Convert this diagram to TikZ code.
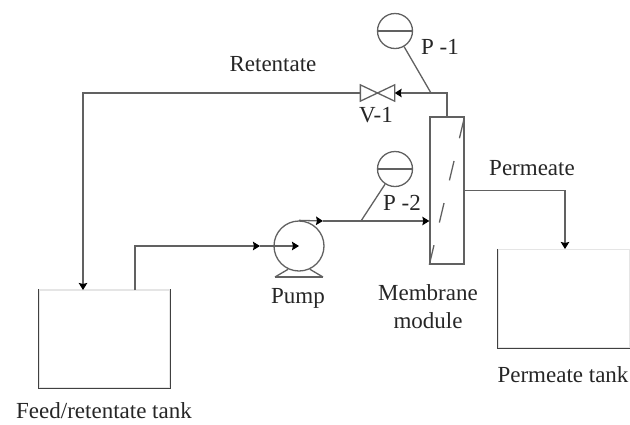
\documentclass[tikz,border=0pt]{standalone}
\usepackage{fontspec}
\setmainfont{Liberation Serif}
\usetikzlibrary{arrows.meta, shapes.geometric}

\begin{document}
\begin{tikzpicture}[x = 1pt, y = -1pt, >={Stealth[length = 7pt, width = 8.5pt, inset = 1pt, black]}, line width = 1.3pt, color = black!62]
  \tikzstyle{every node} = [text = black!85, inner sep = 0pt, font = \fontsize{23}{28}\selectfont]
  \tikzstyle{tank}   = [draw = black!10, minimum width = 131pt, minimum height = 98pt]
  \tikzstyle{gauge}  = [draw, shape = circle, minimum size = 35pt]
  \useasboundingbox (0,0) rectangle (630,424);

  % vessels
  \node[tank] (feed) at (104.5,339) {};
  \node[tank] (perm) at (564,298.5) {};
  \node[draw, minimum width = 34pt, minimum height = 147pt] (module) at (447,190.5) {};
  \node[draw, shape = circle, minimum size = 50pt] (pump) at (299,246) {};
  \node[gauge] (P1) at (395,31) {};
  \node[gauge] (P2) at (395,169) {};
  \node[minimum width = 33pt, minimum height = 15pt] (V1) at (377.5,93) {};

  \coordinate (feedout) at (135,290);
  \coordinate (feedmark) at (260,246);
  \coordinate (pumpmark) at (323,221);
  \coordinate (feedin) at (83,290);
  \coordinate (permin) at (565,249);
  \coordinate (tap1) at (431,93);
  \coordinate (tap2) at (361,221);
  \coordinate (footL) at (275,277);
  \coordinate (footR) at (323,277);

  % open tops of the tanks
  \draw[black!75, line width = 1pt] (feed.north west) |- (feed.south east) -- (feed.north east);
  \draw[black!75, line width = 1pt] (perm.north west) |- (perm.south east) -- (perm.north east);

  % pipes
  \draw[->] (feedout) |- (feedmark);
  \draw[->] (feedmark) -- (pump.center);
  \draw[->] (pump.north) -- (pumpmark);
  \draw[->] (pumpmark) -- (pumpmark -| module.west);
  \draw[->] (module.north) |- (V1.east);
  \draw[->] (V1.west) -| (feedin);
  \draw[->] (module.east) -| (permin);

  % instruments
  \draw (P1.west) -- (P1.east);
  \draw (P2.west) -- (P2.east);
  \draw (P1) -- (tap1);
  \draw (P2) -- (tap2);
  \draw (V1.north west) -- (V1.south east) -- (V1.north east) -- (V1.south west) -- cycle;
  \draw (footL) -- (footR);
  \draw (footL) -- (pump.-115);
  \draw (footR) -- (pump.-65);
  \draw[dash pattern = on 20pt off 23.3pt] (module.south west) -- (module.north east);

  % labels
  \node (lblret) at (273,64) {Retentate};
  \node (lblp1)  at (440,47) {P -1};
  \node (lblv1)  at (376,115) {V-1};
  \node (lblp2)  at (402,203) {P -2};
  \node (lblper) at (532,168) {Permeate};
  \node (lblpump) at (298,298) {Pump};
  \node[align = center] (lblmod) at (428,307) {Membrane\\module};
  \node (lblptank) at (563,375) {Permeate tank};
  \node (lblftank) at (104,411) {Feed/retentate tank};
\end{tikzpicture}
\end{document}
